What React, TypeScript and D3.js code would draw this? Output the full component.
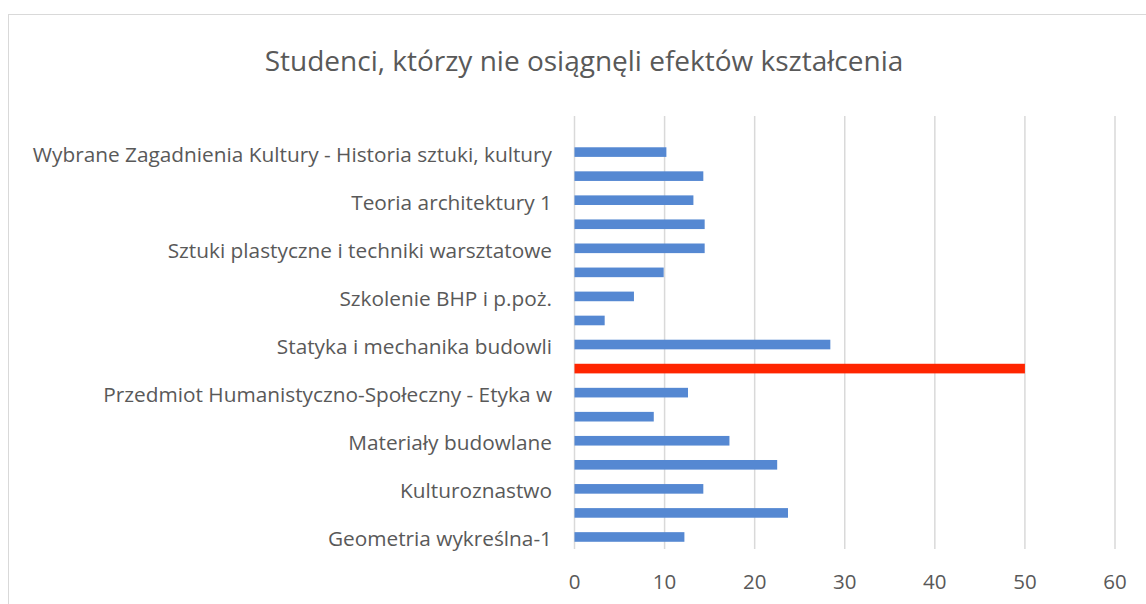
import React from "react";
import * as d3 from "d3";

const title = "Studenci, którzy nie osiągnęli efektów kształcenia";

// Categories listed top to bottom (hidden labels are shown as empty strings)
const categories: string[] = [
  "",
  "Wybrane Zagadnienia Kultury - Historia sztuki, kultury",
  "",
  "Teoria architektury 1",
  "",
  "Sztuki plastyczne i techniki warsztatowe",
  "",
  "Szkolenie BHP i p.poż.",
  "",
  "Statyka i mechanika budowli",
  "",
  "Przedmiot Humanistyczno-Społeczny - Etyka w",
  "",
  "Materiały budowlane",
  "",
  "Kulturoznastwo",
  "",
  "Geometria wykreślna-1",
];

const values: (number | null)[] = [
  null, 10.2, 14.3, 13.2, 14.45, 14.45, 9.9, 6.6, 3.35, 28.4, 50, 12.6, 8.8, 17.2, 22.5, 14.3, 23.7, 12.2,
];

const highlightIndex = 10;
const xTicks = [0, 10, 20, 30, 40, 50, 60];

const W = 1146;
const H = 604;
const TEXT = "#595959";
const GRID = "#d9d9d9";
const BLUE = "#5588d2";
const RED = "#ff2500";
const FONT = "'Open Sans', Lato, sans-serif";

export default function App() {
  const x = d3.scaleLinear().domain([0, 60]).range([574.5, 1115]);
  const y = d3
    .scaleBand<number>()
    .domain(d3.range(categories.length))
    .range([116, 549])
    .paddingInner(0.6)
    .paddingOuter(0.3);
  const bw = y.bandwidth();

  return (
    <svg
      width={W}
      height={H}
      style={{ position: "absolute", left: 0, top: 0, background: "#fff" }}
      fontFamily={FONT}
    >
      <rect x={0} y={0} width={W} height={H} fill="#fff" />
      <rect x={8.5} y={14.5} width={W + 20} height={H + 20} fill="#fff" stroke={GRID} strokeWidth={1} />
      <text x={584} y={71} textAnchor="middle" fontSize={28} fill={TEXT}>
        {title}
      </text>
      {xTicks.map((t) => (
        <line key={"g" + t} x1={x(t)} x2={x(t)} y1={116} y2={549} stroke={GRID} strokeWidth={1.5} />
      ))}
      {values.map((v, i) =>
        v == null ? null : (
          <rect
            key={"b" + i}
            x={x(0)}
            y={y(i)!}
            width={x(v) - x(0)}
            height={bw}
            fill={i === highlightIndex ? RED : BLUE}
          />
        )
      )}
      {categories.map((c, i) =>
        c ? (
          <text
            key={"l" + i}
            x={552}
            y={y(i)! + bw / 2 + 9.5}
            textAnchor="end"
            fontSize={20.8}
            fill={TEXT}
          >
            {c}
          </text>
        ) : null
      )}
      {xTicks.map((t) => (
        <text key={"t" + t} x={x(t)} y={589} textAnchor="middle" fontSize={20.5} fill={TEXT}>
          {t}
        </text>
      ))}
    </svg>
  );
}
